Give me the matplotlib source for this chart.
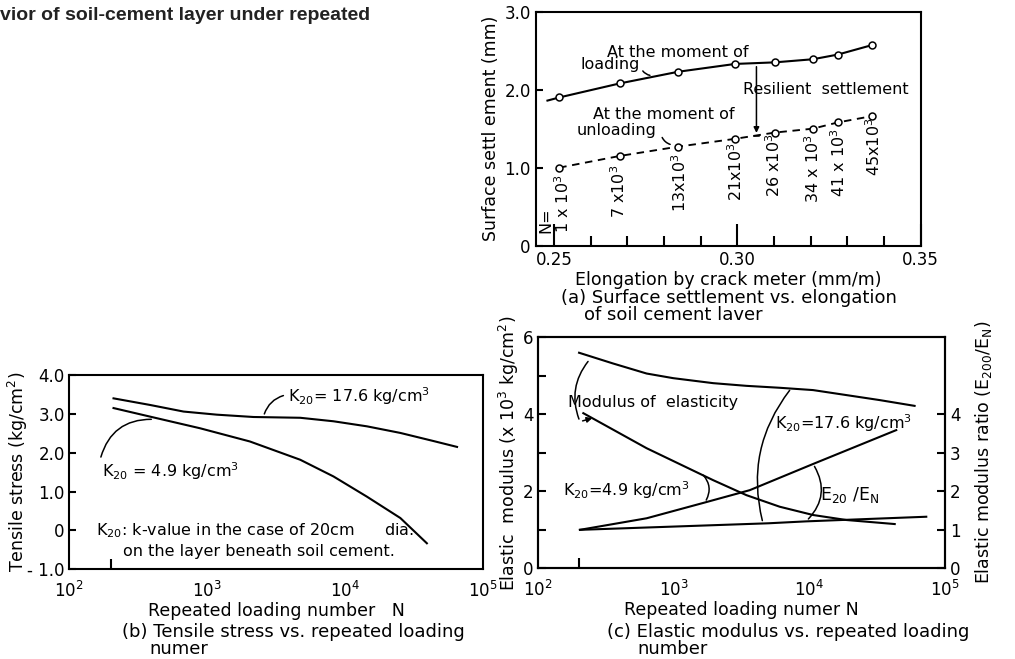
import matplotlib
matplotlib.use("Agg")
import matplotlib.pyplot as plt
import numpy as np

# ---------------- data ----------------
# (a) surface settlement vs elongation
elong = [0.2514, 0.2679, 0.2839, 0.2994, 0.3102, 0.3206, 0.3274, 0.3366]
settle_loading = [1.90, 2.08, 2.23, 2.33, 2.35, 2.39, 2.45, 2.57]
settle_unloading = [1.00, 1.15, 1.27, 1.37, 1.45, 1.50, 1.58, 1.66]
loading_start = (0.2482, 1.86)
n_labels = ["N=\n1 x 10$^3$", "7 x10$^3$", "13x10$^3$", "21x10$^3$",
            "26 x10$^3$", "34 x 10$^3$", "41 x 10$^3$", "45x10$^3$"]

# (b) tensile stress vs N
nb_176 = [210, 386, 675, 1175, 2167, 4720, 8220, 14350, 25060, 43700, 64500]
ts_176 = [3.40, 3.23, 3.06, 2.98, 2.92, 2.90, 2.81, 2.68, 2.51, 2.30, 2.15]
nb_49 = [210, 386, 889, 2040, 4720, 8220, 14350, 25060, 39000]
ts_49 = [3.15, 2.93, 2.63, 2.29, 1.82, 1.39, 0.87, 0.32, -0.33]

# (c) elastic modulus / ratio vs N
nc_mod176 = [200, 357, 630, 988, 1950, 3435, 6040, 10640, 18750, 33000, 59700]
mod_176 = [5.60, 5.32, 5.06, 4.94, 4.81, 4.74, 4.69, 4.63, 4.50, 4.37, 4.22]
nc_mod49 = [215, 630, 1950, 3435, 6040, 10640, 18750, 42600]
mod_49 = [4.03, 3.12, 2.29, 1.90, 1.60, 1.385, 1.255, 1.15]
nc_rat49 = [203, 630, 1694, 3630, 10640, 43700]
rat_49 = [1.00, 1.30, 1.71, 2.03, 2.71, 3.59]
nc_rat176 = [203, 5000, 9500, 72800]
rat_176 = [1.00, 1.17, 1.22, 1.34]

# ---------------- style ----------------
FT = 12      # tick labels
FL = 12.5    # axis labels
FA = 11.5    # annotations
FC = 13      # captions
LW = 1.5
plt.rcParams['font.family'] = ['DejaVu Sans']
plt.rcParams['font.size'] = FA
plt.rcParams['xtick.labelsize'] = FT
plt.rcParams['ytick.labelsize'] = FT
plt.rcParams['axes.labelsize'] = FL
plt.rcParams['axes.linewidth'] = LW
plt.rcParams['mathtext.default'] = 'regular'
K = 'black'

fig = plt.figure(figsize=(10.15, 6.59), dpi=100)

fig.text(0.0, 1 - 15 / 659, "vior of soil-cement layer under repeated",
         fontsize=14, fontweight='bold', family=['Liberation Sans', 'DejaVu Sans'],
         ha='left', va='center', color='#222222')

# ================= (a) =================
axa = fig.add_axes([0.5278, 0.6272, 0.3793, 0.3551])
axa.plot([loading_start[0]] + elong, [loading_start[1]] + settle_loading, color=K, lw=LW)
axa.plot(elong, settle_loading, 'o', mfc='white', mec=K, ms=5, mew=1.1)
axa.plot(elong, settle_unloading, color=K, lw=LW * 0.9, ls=(0, (4, 3)))
axa.plot(elong, settle_unloading, 'o', mfc='white', mec=K, ms=5, mew=1.1)
axa.set_xlim(0.245, 0.35)
axa.set_ylim(0, 3.0)
axa.set_xticks([0.25, 0.30, 0.35])
axa.set_xticklabels(["0.25", "0.30", "0.35"])
axa.set_xticks(np.arange(0.26, 0.345, 0.01), minor=True)
axa.tick_params(axis='x', which='major', direction='in', length=16, width=LW, pad=4)
axa.tick_params(axis='x', which='minor', direction='in', length=7, width=LW)
axa.set_yticks([0, 1, 2, 3])
axa.set_yticklabels(["0", "1.0", "2.0", "3.0"])
axa.tick_params(axis='y', direction='in', length=5, width=LW)
axa.set_ylabel("Surface settl ement (mm)", labelpad=3)
axa.set_xlabel("Elongation by crack meter (mm/m)", labelpad=1)

lab_pos = [(0.2503, 0.54), (0.2676, 0.70), (0.2842, 0.81), (0.2996, 0.95),
           (0.3099, 1.03), (0.3206, 0.99), (0.3276, 1.06), (0.3371, 1.27)]
for (x, y), s in zip(lab_pos, n_labels):
    axa.text(x, y, s, rotation=90, ha='center', va='center', fontsize=FA,
             multialignment='left', linespacing=0.95)

axa.text(0.2644, 2.48, "At the moment of", ha='left', va='center')
axa.text(0.2571, 2.32, "loading", ha='left', va='center')
axa.annotate("", xy=(0.2769, 2.18), xytext=(0.2738, 2.27),
             arrowprops=dict(arrowstyle='-', color=K, lw=1.1, connectionstyle='arc3,rad=0.3'))
axa.text(0.2606, 1.676, "At the moment of", ha='left', va='center')
axa.text(0.2562, 1.474, "unloading", ha='left', va='center')
axa.annotate("", xy=(0.2824, 1.29), xytext=(0.2792, 1.42),
             arrowprops=dict(arrowstyle='-', color=K, lw=1.1, connectionstyle='arc3,rad=0.3'))
axa.text(0.3016, 2.0, "Resilient  settlement", ha='left', va='center')
axa.annotate("", xy=(0.3052, 1.41), xytext=(0.3052, 2.33),
             arrowprops=dict(arrowstyle='-|>', color=K, lw=1.1, mutation_scale=8))
axa.plot([0.3044, 0.3060], [1.41, 1.41], color=K, lw=1.1)
fig.text(0.553, 1 - 298 / 659, "(a) Surface settlement vs. elongation",
         ha='left', va='center', fontsize=FC)
fig.text(0.575, 1 - 315 / 659, "of soil cement laver",
         ha='left', va='center', fontsize=FC)

# ================= (b) =================
axb = fig.add_axes([0.0680, 0.1361, 0.4082, 0.2948])
axb.plot(nb_176, ts_176, color=K, lw=LW)
axb.plot(nb_49, ts_49, color=K, lw=LW)
axb.set_xscale('log')
axb.set_xlim(1e2, 1e5)
axb.set_ylim(-1.0, 4.0)
axb.set_xticks([1e2, 1e3, 1e4, 1e5])
axb.set_xticklabels(["10$^2$", "10$^3$", "10$^4$", "10$^5$"])
axb.set_xticks([200, 1e4], minor=True)
axb.set_xticklabels([], minor=True)
axb.tick_params(axis='x', which='major', length=0, pad=8)
axb.tick_params(axis='x', which='minor', direction='in', length=7, width=LW)
axb.set_yticks([-1, 0, 1, 2, 3, 4])
axb.set_yticklabels(["- 1.0", "0", "1.0", "2.0", "3.0", "4.0"])
axb.tick_params(axis='y', direction='in', length=5, width=LW, pad=3)
axb.set_ylabel("Tensile stress (kg/cm$^2$)", labelpad=-2)
axb.set_xlabel("Repeated loading number   N", labelpad=1)

axb.text(3820, 3.45, "K$_{20}$= 17.6 kg/cm$^3$", ha='left', va='center')
axb.annotate("", xy=(2560, 2.93), xytext=(3730, 3.49),
             arrowprops=dict(arrowstyle='-', color=K, lw=1.1, connectionstyle='arc3,rad=0.3'))
axb.text(172, 1.52, "K$_{20}$ = 4.9 kg/cm$^3$", ha='left', va='center')
axb.annotate("", xy=(413, 2.86), xytext=(168, 1.82),
             arrowprops=dict(arrowstyle='-', color=K, lw=1.1, connectionstyle='arc3,rad=-0.4'))
axb.text(158, 0.0, "K$_{20}$: k-value in the case of 20cm      dia.", ha='left', va='center')
axb.text(248, -0.54, "on the layer beneath soil cement.", ha='left', va='center')
fig.text(0.120, 1 - 632 / 659, "(b) Tensile stress vs. repeated loading",
         ha='left', va='center', fontsize=FC)
fig.text(0.147, 1 - 649 / 659, "numer", ha='left', va='center', fontsize=FC)

# ================= (c) =================
axc = fig.add_axes([0.5303, 0.1376, 0.4007, 0.3505])
axc.plot(nc_mod176, mod_176, color=K, lw=LW)
axc.plot(nc_mod49, mod_49, color=K, lw=LW)
axc.plot(nc_rat49, rat_49, color=K, lw=LW)
axc.plot(nc_rat176, rat_176, color=K, lw=LW)
axc.set_xscale('log')
axc.set_xlim(1e2, 1e5)
axc.set_ylim(0, 6)
axc.set_xticks([1e2, 1e3, 1e4, 1e5])
axc.set_xticklabels(["10$^2$", "10$^3$", "10$^4$", "10$^5$"])
axc.set_xticks([200, 1e3, 1e4], minor=True)
axc.set_xticklabels([], minor=True)
axc.tick_params(axis='x', which='major', length=0, pad=8)
axc.tick_params(axis='x', which='minor', direction='in', length=7, width=LW)
axc.set_yticks([0, 2, 4, 6])
axc.set_yticks([1, 3, 5], minor=True)
axc.tick_params(axis='y', which='both', direction='in', length=6, width=LW)
axc.set_ylabel("Elastic  modulus (x 10$^3$ kg/cm$^2$)", labelpad=1)
axc.set_xlabel("Repeated loading numer N", labelpad=1)

axr = axc.twinx()
axr.set_ylim(0, 6)
axr.set_yticks([0, 1, 2, 3, 4])
axr.tick_params(axis='y', direction='in', length=6, width=LW)
axr.set_ylabel("Elastic modulus ratio (E$_{200}$/E$_N$)", labelpad=9)

axc.text(166, 4.30, "Modulus of  elasticity", ha='left', va='center')
axc.annotate("", xy=(203, 3.81), xytext=(240, 5.43),
             arrowprops=dict(arrowstyle='-', color=K, lw=1.1, connectionstyle='arc3,rad=0.3'))
axc.annotate("", xy=(262, 3.92), xytext=(203, 3.81),
             arrowprops=dict(arrowstyle='-|>', color=K, lw=1.1, mutation_scale=8))
axc.text(5550, 3.77, "K$_{20}$=17.6 kg/cm$^3$", ha='left', va='center')
axc.annotate("", xy=(4550, 1.17), xytext=(7360, 4.68),
             arrowprops=dict(arrowstyle='-', color=K, lw=1.1, connectionstyle='arc3,rad=0.25'))
axc.text(153, 2.03, "K$_{20}$=4.9 kg/cm$^3$", ha='left', va='center')
axc.annotate("", xy=(1694, 1.71), xytext=(1600, 2.47),
             arrowprops=dict(arrowstyle='-', color=K, lw=1.1, connectionstyle='arc3,rad=-0.4'))
axc.text(11900, 1.90, "E$_{20}$ /E$_N$", ha='left', va='center', fontsize=FA + 1)
axc.annotate("", xy=(9510, 1.23), xytext=(10640, 2.71),
             arrowprops=dict(arrowstyle='-', color=K, lw=1.1, connectionstyle='arc3,rad=-0.4'))
fig.text(0.598, 1 - 632 / 659, "(c) Elastic modulus vs. repeated loading",
         ha='left', va='center', fontsize=FC)
fig.text(0.628, 1 - 649 / 659, "number", ha='left', va='center', fontsize=FC)

fig.savefig("out.png", dpi=100)
